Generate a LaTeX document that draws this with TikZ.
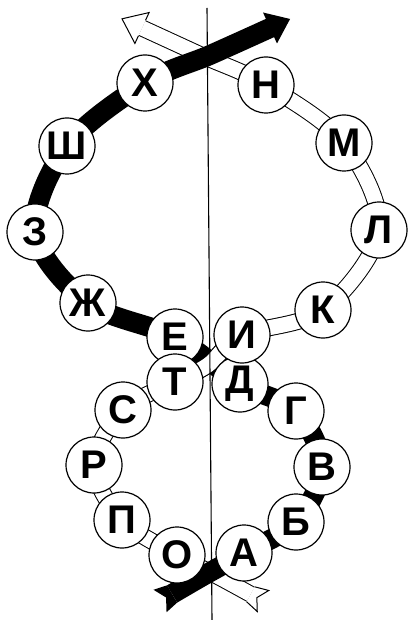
\documentclass[tikz,border=0pt]{standalone}
\usepackage{fontspec}
\setmainfont{Liberation Sans}
\usetikzlibrary{calc}
\begin{document}
\begin{tikzpicture}[x=0.5pt,y=-0.5pt,
  letter/.style={circle,draw=black,fill=white,line width=0.6pt,minimum size=28pt,inner sep=0pt,
     font=\fontsize{20}{20}\selectfont\bfseries},
  blackband/.style={line width=10pt,draw=black},
  wedge/.style={line width=8.5pt,draw=black},
  wfill/.style={line width=7.5pt,draw=white},
  thinline/.style={line width=0.5pt,draw=black,line join=miter},
  axisline/.style={line width=0.55pt,draw=black}
]
\useasboundingbox (0,0) rectangle (407,620);
% ---- positions of the letter discs
\coordinate (pA)  at (244,553);
\coordinate (pB)  at (296,522);
\coordinate (pV)  at (322,467);
\coordinate (pG)  at (296,411);
\coordinate (pD)  at (240,384);
\coordinate (pE)  at (175,337);
\coordinate (pZh) at (88,303);
\coordinate (pZ)  at (35,232);
\coordinate (pSh) at (67,146);
\coordinate (pKh) at (145,83);
\coordinate (pO)  at (177,555);
\coordinate (pP)  at (122,520);
\coordinate (pR)  at (94,465);
\coordinate (pS)  at (123,410);
\coordinate (pT)  at (175,382);
\coordinate (pI)  at (242,335);
\coordinate (pK)  at (323,310);
\coordinate (pL)  at (379,230);
\coordinate (pM)  at (344,143);
\coordinate (pN)  at (266,85);
% ---- ribbon helper points
\coordinate (mid1) at (203,576);
\coordinate (mid2) at (210,55);
\coordinate (mid3) at (219,577);
\coordinate (mid4) at (203,56);
\coordinate (midw) at (208,365);
\coordinate (tb) at (160,601);
\coordinate (hb) at (270,28);
\coordinate (tw) at (263,601);
\coordinate (hw) at (142,28);
% black tail
\coordinate (bn0)  at ($(tb)!7pt!(mid1)$);
\coordinate (bn0l) at ($(bn0)!5pt!90:(mid1)$);
\coordinate (bn0r) at ($(bn0)!5pt!-90:(mid1)$);
\coordinate (btl)  at ($(tb)!6.5pt!90:(mid1)$);
\coordinate (btr)  at ($(tb)!6.5pt!-90:(mid1)$);
\coordinate (bnot) at ($(tb)!3.5pt!(mid1)$);
% black head
\coordinate (hbx) at ($(hb)!1pt!180:(mid2)$);
\coordinate (hbl) at ($(hb)!8.5pt!90:(mid2)$);
\coordinate (hbr) at ($(hb)!8.5pt!-90:(mid2)$);
\coordinate (hbt) at ($(hb)!11pt!180:(mid2)$);
% white tail
\coordinate (wn0)  at ($(tw)!7pt!(mid3)$);
\coordinate (wn0l) at ($(wn0)!4.25pt!90:(mid3)$);
\coordinate (wn0r) at ($(wn0)!4.25pt!-90:(mid3)$);
\coordinate (wtl)  at ($(tw)!6pt!90:(mid3)$);
\coordinate (wtr)  at ($(tw)!6pt!-90:(mid3)$);
\coordinate (wnot) at ($(tw)!3.5pt!(mid3)$);
% white head
\coordinate (hwel) at ($(hw)!4.25pt!90:(mid4)$);
\coordinate (hwer) at ($(hw)!4.25pt!-90:(mid4)$);
\coordinate (hwl) at ($(hw)!8.5pt!90:(mid4)$);
\coordinate (hwr) at ($(hw)!8.5pt!-90:(mid4)$);
\coordinate (hwt) at ($(hw)!11pt!180:(mid4)$);
\def\wpath{plot[smooth,tension=0.55] coordinates {(wn0) (mid3) (pO) (pP) (pR) (pS) (pT) (midw) (pI) (pK) (pL) (pM) (pN) (mid4) (hw)}}
% ---- white ribbon
\draw[wedge] \wpath;
\draw[wfill] \wpath;
\fill[white] (wn0l) -- (wtl) -- (wnot) -- (wtr) -- (wn0r) -- cycle;
\draw[thinline] (wn0l) -- (wtl) -- (wnot) -- (wtr) -- (wn0r);
\fill[white] (hwel) -- (hwl) -- (hwt) -- (hwr) -- (hwer) -- cycle;
\draw[thinline] (hwel) -- (hwl) -- (hwt) -- (hwr) -- (hwer);
% ---- black ribbon
\draw[blackband] plot[smooth,tension=0.55] coordinates {(bn0) (mid1) (pA) (pB) (pV) (pG) (pD) (pE) (pZh) (pZ) (pSh) (pKh) (mid2) (hbx)};
\fill (bn0l) -- (btl) -- (bnot) -- (btr) -- (bn0r) -- cycle;
\fill (hbl) -- (hbt) -- (hbr) -- cycle;
% ---- white ribbon over the black one in the middle crossing
\begin{scope}
\clip (190,342) rectangle (226,380);
\draw[wedge] \wpath;
\draw[wfill] \wpath;
\end{scope}
% ---- vertical axis
\coordinate (ax1) at (207,8);
\coordinate (ax2) at (212,620);
\draw[axisline] (ax1) -- (ax2);
% ---- letter discs
\node[letter] (E)  at (pE)  {Е};
\node[letter] (D)  at (pD)  {Д};
\node[letter] (T)  at (pT)  {Т};
\node[letter] (I)  at (pI)  {И};
\node[letter] (A)  at (pA)  {А};
\node[letter] (B)  at (pB)  {Б};
\node[letter] (V)  at (pV)  {В};
\node[letter] (G)  at (pG)  {Г};
\node[letter] (Zh) at (pZh) {Ж};
\node[letter] (Z)  at (pZ)  {З};
\node[letter] (Sh) at (pSh) {Ш};
\node[letter] (Kh) at (pKh) {Х};
\node[letter] (O)  at (pO)  {О};
\node[letter] (P)  at (pP)  {П};
\node[letter] (R)  at (pR)  {Р};
\node[letter] (S)  at (pS)  {С};
\node[letter] (K)  at (pK)  {К};
\node[letter] (L)  at (pL)  {Л};
\node[letter] (M)  at (pM)  {М};
\node[letter] (N)  at (pN)  {Н};
\end{tikzpicture}
\end{document}
